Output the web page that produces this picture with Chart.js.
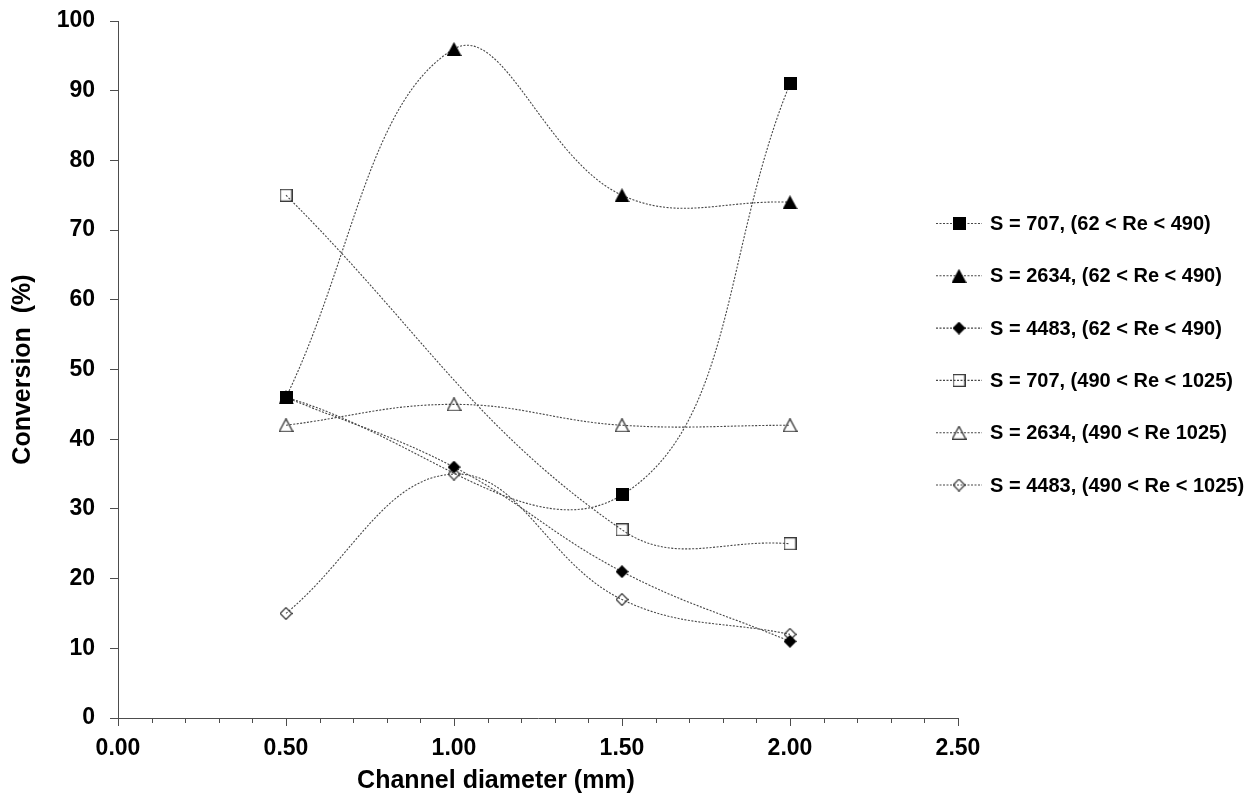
<!DOCTYPE html>
<html>
<head>
<meta charset="utf-8">
<title>Conversion vs channel diameter</title>
<script src="https://cdn.jsdelivr.net/npm/chart.js@4.4.1/dist/chart.umd.min.js"></script>
<style>
  html, body { margin: 0; padding: 0; background: #fff; }
  canvas { display: block; }
</style>
</head>
<body>
<canvas id="conversionChart" width="1252" height="798"></canvas>
<script>
// Channel diameters (mm)
const diameters = [0.5, 1.0, 1.5, 2.0];

// Conversion (%) for each run; null = no measurement at that diameter
const s707Low   = [46, null, 32, 91];
const s2634Low  = [46, 96, 75, 74];
const s4483Low  = [46, 36, 21, 11];
const s707High  = [75, null, 27, 25];
const s2634High = [42, 45, 42, 42];
const s4483High = [15, 35, 17, 12];

const seriesLabels = [
  'S = 707, (62 < Re < 490)',
  'S = 2634, (62 < Re < 490)',
  'S = 4483, (62 < Re < 490)',
  'S = 707, (490 < Re < 1025)',
  'S = 2634, (490 < Re 1025)',
  'S = 4483, (490 < Re < 1025)'
];

const xTitle = 'Channel diameter (mm)';
const yTitle = 'Conversion  (%)';

const FONT = '"Liberation Sans", Arial, sans-serif';
const axisColor = '#4d4d4d';
const lineColor = '#474747';

// small canvases used as point styles (and reused in the legend)
function makeMarker(shape, filled, w, h) {
  const c = document.createElement('canvas');
  c.width = w; c.height = h;
  const g = c.getContext('2d');
  const lw = 1.3;
  const p = filled ? 0 : lw / 2;
  g.beginPath();
  if (shape === 'square') {
    g.rect(p, p, w - 2 * p, h - 2 * p);
  } else if (shape === 'triangle') {
    g.moveTo(w / 2, p);
    g.lineTo(w - p, h - p);
    g.lineTo(p, h - p);
    g.closePath();
  } else {
    g.moveTo(w / 2, p);
    g.lineTo(w - p, h / 2);
    g.lineTo(w / 2, h - p);
    g.lineTo(p, h / 2);
    g.closePath();
  }
  if (filled) {
    g.fillStyle = '#000';
    g.fill();
  } else {
    g.strokeStyle = '#3a3a3a';
    g.lineWidth = lw;
    g.stroke();
  }
  return c;
}

const markers = [
  makeMarker('square', true, 13, 13),
  makeMarker('triangle', true, 15, 14),
  makeMarker('diamond', true, 13, 13),
  makeMarker('square', false, 13, 13),
  makeMarker('triangle', false, 15, 14),
  makeMarker('diamond', false, 13, 13)
];

const seriesValues = [s707Low, s2634Low, s4483Low, s707High, s2634High, s4483High];

const datasets = seriesValues.map((vals, i) => ({
  label: seriesLabels[i],
  data: diameters.map((d, j) => ({ x: d, y: vals[j] })),
  borderColor: lineColor,
  borderWidth: 1.1,
  borderDash: [2, 1.5],
  tension: 0.4,
  spanGaps: true,
  fill: false,
  pointStyle: markers[i],
  pointRadius: 7,
  pointHoverRadius: 7
}));

// minor x ticks, x-axis title and the line+marker legend on the right
const extras = {
  id: 'extras',
  afterDraw(chart) {
    const { ctx, scales: { x }, chartArea } = chart;
    ctx.save();
    ctx.strokeStyle = axisColor;
    ctx.lineWidth = 1;
    for (let k = 1; k < 25; k++) {
      if (k % 5 === 0) continue;
      const px = Math.round(x.getPixelForValue(k / 10)) + 0.5;
      ctx.beginPath();
      ctx.moveTo(px, x.top);
      ctx.lineTo(px, x.top + 5);
      ctx.stroke();
    }

    ctx.fillStyle = '#000';
    ctx.font = 'bold 25px ' + FONT;
    ctx.textAlign = 'center';
    ctx.textBaseline = 'middle';
    ctx.fillText(xTitle, chartArea.left + 378, 781);

    ctx.font = 'bold 20px ' + FONT;
    ctx.textAlign = 'left';
    ctx.lineWidth = 1.1;
    datasets.forEach((ds, i) => {
      const y = 223.5 + i * 52.3;
      ctx.strokeStyle = lineColor;
      ctx.setLineDash([2, 1.5]);
      ctx.beginPath();
      ctx.moveTo(936, y);
      ctx.lineTo(982, y);
      ctx.stroke();
      ctx.setLineDash([]);
      const m = markers[i];
      ctx.drawImage(m, 959 - m.width / 2, y - m.height / 2);
      ctx.fillText(ds.label, 990, y + 1);
    });
    ctx.restore();
  }
};

new Chart(document.getElementById('conversionChart'), {
  type: 'line',
  data: { datasets },
  plugins: [extras],
  options: {
    responsive: false,
    animation: false,
    layout: { padding: { top: 21, right: 294, left: 0, bottom: 0 } },
    plugins: {
      legend: { display: false },
      tooltip: { enabled: false }
    },
    scales: {
      x: {
        type: 'linear',
        min: 0,
        max: 2.5,
        afterFit(scale) { scale.height = 80; },
        border: { color: axisColor, width: 1 },
        grid: { drawOnChartArea: false, color: axisColor, tickLength: 8 },
        ticks: {
          stepSize: 0.5,
          padding: 9,
          color: '#000',
          font: { family: FONT, size: 23, weight: 'bold' },
          callback: v => v.toFixed(2)
        }
      },
      y: {
        min: 0,
        max: 100,
        afterFit(scale) {
          scale.width = 118;
          scale.paddingTop = 0;
          scale.paddingBottom = 0;
        },
        border: { color: axisColor, width: 1 },
        grid: { drawOnChartArea: false, color: axisColor, tickLength: 8 },
        ticks: {
          stepSize: 10,
          padding: 15,
          color: '#000',
          font: { family: FONT, size: 23, weight: 'bold' }
        },
        title: {
          display: true,
          text: yTitle,
          color: '#000',
          padding: { top: 8, bottom: 0 },
          font: { family: FONT, size: 25, weight: 'bold' }
        }
      }
    }
  }
});
</script>
</body>
</html>
